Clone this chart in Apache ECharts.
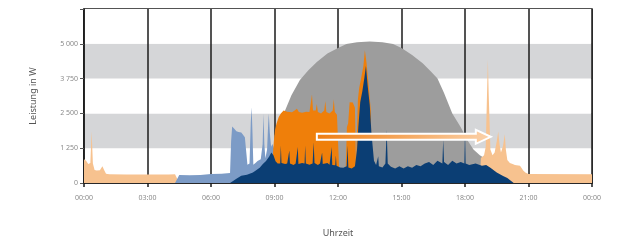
<!DOCTYPE html>
<html>
<head>
<meta charset="utf-8">
<script src="https://cdn.jsdelivr.net/npm/echarts@6/dist/echarts.min.js"></script>
<style>
  html, body { margin: 0; padding: 0; background: #fff; }
</style>
</head>
<body>
<div id="main" style="width: 618px; height: 243px"></div>
<script>
// tick labels
var xTickLabels = ["00:00", "03:00", "06:00", "09:00", "12:00", "15:00", "18:00", "21:00", "00:00"];
var yTickLabels = ["0", "1 250", "2 500", "3 750", "5 000", ""];

// [hour, W]
var sunCurve = [
  [8.9, 0], [9.0, 1700], [9.2, 2200], [9.5, 2600], [9.8, 3150], [10.2, 3700], [10.6, 4050],
  [11.0, 4350], [11.5, 4650], [12.0, 4850], [12.4, 4990], [12.9, 5060], [13.5, 5080],
  [14.1, 5060], [14.6, 4990], [15.0, 4850], [15.5, 4600], [16.0, 4300], [16.4, 4000],
  [16.7, 3750], [17.0, 3250], [17.4, 2500], [17.8, 2000], [18.1, 1550], [18.4, 1200],
  [18.7, 1000], [19.0, 850], [19.3, 700], [19.6, 450], [19.9, 150], [20.1, 0]
];

var peach = [
  [0, 850], [0.1, 800], [0.2, 680], [0.3, 720], [0.36, 1860], [0.42, 700], [0.5, 470],
  [0.6, 450], [0.75, 460], [0.87, 600], [0.95, 470], [1.04, 330], [1.2, 310], [2, 305],
  [3, 305], [4, 305], [4.3, 310], [4.5, 0], [18.7, 0], [18.75, 900], [18.9, 1000],
  [18.98, 1300], [19.05, 3500], [19.08, 4430], [19.12, 3200], [19.2, 1200], [19.3, 1000],
  [19.4, 1100], [19.5, 1500], [19.57, 1850], [19.63, 1400], [19.7, 1100], [19.8, 1350],
  [19.88, 1750], [19.93, 1200], [20.0, 830], [20.12, 720], [20.25, 680], [20.36, 650],
  [20.45, 580], [20.6, 620], [20.67, 550], [20.75, 450], [20.85, 380], [21.0, 320], [24, 310]
];

var lightBlue = [
  [4.3, 0], [4.5, 285], [5, 280], [5.5, 285], [6, 320], [6.5, 330], [6.9, 360],
  [6.95, 1500], [7.0, 2030], [7.1, 1950], [7.2, 1860], [7.3, 1830], [7.43, 1810],
  [7.52, 1720], [7.6, 1640], [7.68, 1000], [7.72, 660], [7.82, 700], [7.88, 2200],
  [7.92, 2720], [7.96, 1800], [8.0, 660], [8.1, 720], [8.2, 790], [8.35, 850],
  [8.44, 1400], [8.48, 2500], [8.52, 1400], [8.57, 890], [8.65, 1200], [8.7, 2100],
  [8.73, 2500], [8.78, 1800], [8.84, 1300], [8.9, 1400], [9.0, 1200], [9.2, 0]
];

var orange = [
  [8.85, 0], [8.91, 890], [8.97, 1500], [9.03, 1920], [9.1, 2150], [9.2, 2370], [9.3, 2500],
  [9.43, 2600], [9.6, 2560], [9.83, 2545], [9.95, 2600], [10.06, 2670], [10.15, 2550],
  [10.3, 2520], [10.5, 2560], [10.65, 2550], [10.72, 2900], [10.77, 3175], [10.82, 2600],
  [10.95, 2600], [11.0, 2840], [11.05, 2550], [11.2, 2500], [11.35, 2600], [11.4, 2945],
  [11.45, 2550], [11.6, 2500], [11.75, 2600], [11.8, 3010], [11.85, 2550], [11.95, 2450],
  [12.02, 2400], [12.06, 400], [12.36, 400], [12.42, 2000], [12.48, 2150], [12.55, 2900],
  [12.7, 2890], [12.8, 2700], [12.85, 600], [12.9, 600], [12.94, 3000], [13.0, 3400],
  [13.1, 3800], [13.2, 4200], [13.27, 4770], [13.35, 4300], [13.45, 3500], [13.55, 2600],
  [13.6, 0]
];

var navy = [
  [6.9, 0], [7.2, 150], [7.43, 260], [7.7, 300], [7.98, 375], [8.15, 470], [8.3, 550],
  [8.45, 680], [8.6, 790], [8.75, 950], [8.85, 1100], [8.95, 1000], [9.05, 780], [9.15, 700],
  [9.27, 700], [9.3, 1350], [9.33, 720], [9.5, 680], [9.6, 700], [9.67, 700], [9.7, 1170],
  [9.73, 700], [9.9, 650], [10.0, 700], [10.07, 680], [10.1, 1290], [10.13, 680],
  [10.3, 720], [10.42, 700], [10.45, 1350], [10.48, 700], [10.65, 660], [10.8, 700],
  [10.85, 1460], [10.89, 720], [11.05, 650], [11.15, 700], [11.22, 680], [11.25, 1100],
  [11.28, 680], [11.5, 720], [11.6, 660], [11.67, 660], [11.7, 1290], [11.73, 650],
  [11.87, 640], [11.9, 1000], [11.93, 620], [12.1, 560], [12.25, 550], [12.41, 600],
  [12.45, 1350], [12.49, 560], [12.65, 520], [12.8, 600], [12.9, 1200], [12.96, 2000],
  [13.05, 2900], [13.15, 3300], [13.25, 3800], [13.32, 4200], [13.4, 3500], [13.5, 2800],
  [13.58, 1800], [13.7, 800], [13.8, 650], [13.87, 650], [13.9, 960], [13.93, 600],
  [14.1, 560], [14.24, 700], [14.3, 1900], [14.35, 700], [14.5, 580], [14.7, 520],
  [14.9, 600], [15.1, 520], [15.3, 600], [15.5, 550], [15.7, 650], [15.9, 600], [16.1, 700],
  [16.3, 750], [16.5, 650], [16.7, 800], [16.93, 700], [16.97, 1550], [17.01, 750],
  [17.2, 650], [17.4, 800], [17.6, 700], [17.8, 750], [17.97, 700], [18.0, 1950],
  [18.03, 700], [18.2, 650], [18.5, 700], [18.8, 620], [19.0, 650], [19.2, 550], [19.5, 380],
  [19.8, 250], [20.0, 180], [20.3, 0]
];

// arrow: start and end point [hour, W]
var arrowFrom = [11.0, 1660];
var arrowTo = [19.22, 1660];

function areaSeries(name, data, color) {
  return {
    name: name,
    type: "line",
    data: data,
    symbol: "none",
    silent: true,
    lineStyle: { width: 0 },
    areaStyle: { color: color, opacity: 1 },
  };
}

var chart = echarts.init(document.getElementById("main"));
chart.setOption({
  animation: false,
  textStyle: { fontFamily: "Noto Sans" },
  grid: {
    left: 84,
    right: 26,
    top: 9,
    bottom: 52,
    show: true,
    borderColor: "#1b1b1b",
    borderWidth: 1.5,
  },
  xAxis: {
    type: "value",
    min: 0,
    max: 24,
    interval: 3,
    name: "Uhrzeit",
    nameLocation: "middle",
    nameGap: 46,
    nameTextStyle: { color: "#555", fontSize: 9 },
    axisLine: { lineStyle: { color: "#1b1b1b", width: 1.5 } },
    axisTick: { length: 4, lineStyle: { color: "#1b1b1b", width: 1.5 } },
    splitLine: { show: true, lineStyle: { color: "#1b1b1b", width: 1.5 } },
    axisLabel: {
      color: "#8a8a8a",
      fontSize: 7,
      margin: 11,
      formatter: function (v) {
        return xTickLabels[Math.round(v / 3)];
      },
    },
  },
  yAxis: {
    type: "value",
    min: 0,
    max: 6250,
    interval: 1250,
    name: "Leistung in W",
    nameLocation: "middle",
    nameGap: 46,
    nameTextStyle: { color: "#555", fontSize: 9 },
    axisLine: { show: true, lineStyle: { color: "#1b1b1b", width: 1.5 } },
    axisTick: { show: true, length: 4, lineStyle: { color: "#555", width: 1 } },
    splitLine: { show: false },
    splitArea: { show: true, areaStyle: { color: ["#ffffff", "#d5d6d8"] } },
    axisLabel: {
      color: "#8a8a8a",
      fontSize: 7,
      margin: 6,
      formatter: function (v) {
        return yTickLabels[Math.round(v / 1250)];
      },
    },
  },
  series: [
    areaSeries("Sonne", sunCurve, "#9d9d9d"),
    areaSeries("Netz", peach, "#f7c28f"),
    areaSeries("Batterie", lightBlue, "#7c9bc6"),
    areaSeries("Einspeisung", orange, "#ef7f0a"),
    areaSeries("Verbrauch", navy, "#0b3e74"),
    {
      type: "custom",
      silent: true,
      clip: false,
      z: 10,
      data: [arrowFrom, arrowTo],
      encode: { x: 0, y: 1 },
      renderItem: function (params, api) {
        if (params.dataIndex !== 0) return;
        var a = api.coord(arrowFrom);
        var b = api.coord(arrowTo);
        var sh = 3, hh = 7, hl = 15;
        var y = a[1];
        var pts = [
          [a[0], y - sh], [b[0] - hl, y - sh], [b[0] - hl, y - hh], [b[0], y],
          [b[0] - hl, y + hh], [b[0] - hl, y + sh], [a[0], y + sh]
        ];
        return {
          type: "polygon",
          shape: { points: pts },
          style: {
            fill: new echarts.graphic.LinearGradient(0, 0, 1, 0, [
              { offset: 0, color: "#ee7d12" },
              { offset: 1, color: "#fbd2ab" },
            ]),
            stroke: "#ffffff",
            lineWidth: 2,
          },
        };
      },
    },
  ],
});
</script>
</body>
</html>
